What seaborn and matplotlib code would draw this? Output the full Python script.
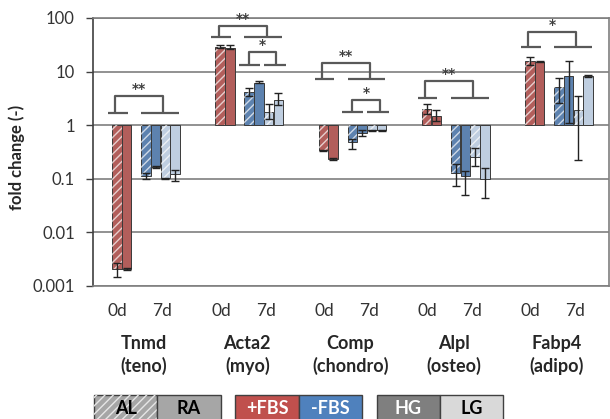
import numpy as np
import pandas as pd
import seaborn as sns
import matplotlib.pyplot as plt
from matplotlib.patches import Rectangle

# genes on the x axis
genes = ["Tnmd", "Acta2", "Comp", "Alpl", "Fabp4"]
gene_types = ["(teno)", "(myo)", "(chondro)", "(osteo)", "(adipo)"]
# six bars per gene: 0d AL/RA (+FBS), 7d AL/RA in HG, 7d AL/RA in LG (-FBS)
bar_group = ["+FBS", "+FBS", "HG", "HG", "LG", "LG"]
bar_hatched = [True, False, True, False, True, False]

# fold change values
fold = {
    "Tnmd": [0.0021, 0.0021, 0.112, 0.165, 0.102, 0.125],
    "Acta2": [29.0, 28.0, 4.2, 6.2, 1.8, 3.0],
    "Comp": [0.34, 0.23, 0.48, 0.72, 0.80, 0.81],
    "Alpl": [2.0, 1.5, 0.13, 0.114, 0.26, 0.10],
    "Fabp4": [15.8, 15.2, 5.2, 8.2, 1.9, 8.2],
}
# lower / upper ends of the error bars
err_lo = {
    "Tnmd": [0.0015, 0.0020, 0.100, 0.160, 0.100, 0.090],
    "Acta2": [27.0, 26.0, 3.5, 6.0, 1.28, 2.34],
    "Comp": [0.33, 0.22, 0.36, 0.62, 0.78, 0.79],
    "Alpl": [1.6, 1.2, 0.072, 0.05, 0.17, 0.043],
    "Fabp4": [13.3, 14.8, 2.63, 1.12, 0.227, 7.9],
}
err_hi = {
    "Tnmd": [0.0027, 0.0022, 0.128, 0.170, 0.104, 0.147],
    "Acta2": [31.0, 32.0, 5.0, 6.6, 2.45, 4.05],
    "Comp": [0.35, 0.24, 0.55, 0.80, 0.82, 0.83],
    "Alpl": [2.52, 1.91, 0.19, 0.14, 0.38, 0.16],
    "Fabp4": [18.4, 15.6, 7.75, 15.9, 3.5, 8.5],
}

# significance brackets
sig_gene = [0, 1, 1, 2, 2, 3, 4]
sig_kind = ["outer", "outer", "inner", "outer", "inner", "outer", "outer"]
sig_label = ["**", "**", "*", "**", "*", "**", "*"]
sig_top = [3.5, 72, 23.4, 14.4, 3.0, 6.7, 55.6]
sig_feet = [1.66, 43.6, 13.2, 7.4, 1.78, 3.16, 28.8]

palette = {"+FBS": "#C0504D", "HG": "#4F81BD", "LG": "#B9CDE5"}
slot_offsets = [0, 1, 3, 4, 5, 6]
group_step = 10.65

rows = []
for g, gene in enumerate(genes):
    for i in range(6):
        rows.append({
            "pos": g * group_step + slot_offsets[i],
            "logv": np.log10(fold[gene][i]),
            "lo": np.log10(err_lo[gene][i]),
            "hi": np.log10(err_hi[gene][i]),
            "grp": bar_group[i],
            "hatch": bar_hatched[i],
        })
df = pd.DataFrame(rows)

sns.set_theme(style="white")
plt.rcParams["font.family"] = ["Lato", "DejaVu Sans"]

fig = plt.figure(figsize=(6.1, 4.19), dpi=100)
ax = fig.add_axes([93 / 610, 1 - 286 / 419, 516 / 610, 268 / 419])

sns.barplot(data=df, x="pos", y="logv", hue="grp", palette=palette,
            native_scale=True, dodge=False, width=0.97, orient="x",
            edgecolor="#3a3a3a", linewidth=0.7, legend=False,
            errorbar=None, ax=ax, zorder=2)

# hatch the AL bars
hatch_pos = df.loc[df["hatch"], "pos"].values
for p in list(ax.patches):
    cx = p.get_x() + p.get_width() / 2
    if np.any(np.isclose(cx, hatch_pos)):
        ax.add_patch(Rectangle((p.get_x(), p.get_y()), p.get_width(), p.get_height(),
                               fill=False, hatch="////", edgecolor="#ffffff",
                               linewidth=0, alpha=0.7, zorder=2.5))

ax.errorbar(df["pos"], df["logv"], yerr=[df["logv"] - df["lo"], df["hi"] - df["logv"]],
            fmt="none", ecolor="#222222", elinewidth=1, capsize=3, capthick=1, zorder=3)

# brackets
geo = {"outer": ((-0.9, 1.1), -0.15, (2.5, 6.4), 4.8),
       "inner": ((1.9, 4.1), 3.0, (4.5, 6.8), 5.8)}
for g, kind, lab, top, feet in zip(sig_gene, sig_kind, sig_label, sig_top, sig_feet):
    x0 = g * group_step
    lf, lv, rf, rv = geo[kind]
    t, f = np.log10(top), np.log10(feet)
    kw = dict(color="#595959", lw=1.6, solid_capstyle="butt", zorder=3)
    ax.plot([x0 + lf[0], x0 + lf[1]], [f, f], **kw)
    ax.plot([x0 + rf[0], x0 + rf[1]], [f, f], **kw)
    ax.plot([x0 + lv, x0 + lv, x0 + rv, x0 + rv], [f, t, t, f], **kw)
    ax.annotate(lab, (x0 + (lv + rv) / 2, t), xytext=(0, 2), textcoords="offset points",
                ha="center", va="baseline", fontsize=10, fontweight="bold",
                color="#404040", family="DejaVu Sans")

ax.set_xlim(-2.46, 4 * group_step + 6 + 2.16)
ax.set_ylim(-3, 2)
ax.set_yticks(range(-3, 3))
ax.set_yticklabels(["0.001", "0.01", "0.1", "1", "10", "100"], fontsize=12, color="#333333")
ax.yaxis.grid(True, color="#7f7f7f", lw=1.2)
ax.set_axisbelow(True)
ax.tick_params(axis="y", left=True, length=5, width=1, color="#404040", pad=8)

day_pos, day_lab = [], []
for g in range(len(genes)):
    day_pos += [g * group_step + 0.1, g * group_step + 4.7]
    day_lab += ["0d", "7d"]
ax.set_xticks(day_pos)
ax.set_xticklabels(day_lab, fontsize=12.5, color="#333333")
ax.tick_params(axis="x", length=0, pad=12)
ax.set_xlabel("")
ax.set_ylabel("fold change (-)", fontsize=12, fontweight="bold")
ax.yaxis.set_label_coords(-0.131, 0.48)

trans = ax.get_xaxis_transform()
for g, (gene, typ) in enumerate(zip(genes, gene_types)):
    ax.text(g * group_step + 2.8, -0.215, gene, transform=trans, ha="center", va="center",
            fontsize=13, fontweight="bold")
    ax.text(g * group_step + 2.8, -0.30, typ, transform=trans, ha="center", va="center",
            fontsize=13, fontweight="bold")

for side in ["top", "right", "bottom"]:
    ax.spines[side].set_color("#7f7f7f")
    ax.spines[side].set_linewidth(1.2)
ax.spines["left"].set_color("#404040")
ax.spines["left"].set_linewidth(1.2)

# legend boxes under the chart
legend_cells = [
    (94, 157.3, "AL", "#A6A6A6", "black", True),
    (157.3, 220.7, "RA", "#A6A6A6", "black", False),
    (235, 299, "+FBS", "#C0504D", "white", False),
    (299, 361.7, "-FBS", "#4F81BD", "white", False),
    (376.7, 440, "HG", "#7F7F7F", "white", False),
    (440, 503.3, "LG", "#D9D9D9", "black", False),
]
for x0, x1, lab, fc, tc, hat in legend_cells:
    fig.add_artist(Rectangle((x0 / 610, -0.02), (x1 - x0) / 610, 0.02 + 24 / 419,
                             transform=fig.transFigure, facecolor=fc,
                             edgecolor="#404040", lw=1))
    if hat:
        fig.add_artist(Rectangle((x0 / 610, -0.02), (x1 - x0) / 610, 0.02 + 24 / 419,
                                 transform=fig.transFigure, fill=False, hatch="////",
                                 edgecolor="#e6e6e6", lw=0))
    fig.text((x0 + x1) / 2 / 610, 1 - 408 / 419, lab, ha="center", va="center",
             fontsize=13, fontweight="bold", color=tc)

fig.savefig("out.png", dpi=100)
